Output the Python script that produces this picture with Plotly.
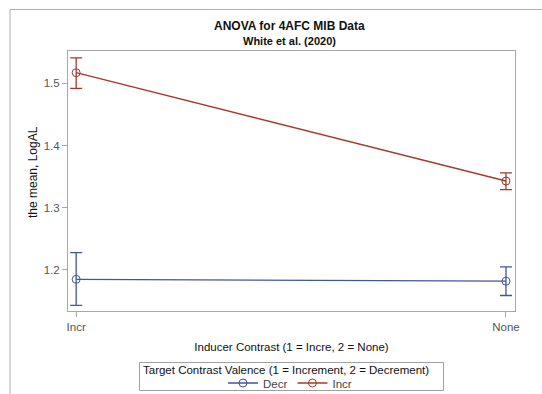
import plotly.graph_objects as go

categories = ["Incr", "None"]
series_names = ["Decr", "Incr"]
decr_mean = [1.185, 1.182]
decr_upper = [1.228, 1.205]
decr_lower = [1.143, 1.159]
incr_mean = [1.517, 1.343]
incr_upper = [1.541, 1.356]
incr_lower = [1.492, 1.329]
y_ticks = [1.2, 1.3, 1.4, 1.5]

colors = {"Decr": "#445694", "Incr": "#A23A2E"}
FONT = "Liberation Sans, Arial, sans-serif"

W, H = 542, 394
L, R, T, B = 68, 515, 51, 311

def px_x(p):
    return (p - L) / (R - L)

def px_y(p):
    return (B - p) / (B - T)

fig = go.Figure()
for name, m, up, lo in [("Decr", decr_mean, decr_upper, decr_lower),
                        ("Incr", incr_mean, incr_upper, incr_lower)]:
    fig.add_trace(go.Scatter(
        x=[0, 1], y=m, name=name, mode="lines+markers",
        line=dict(color=colors[name], width=1.3),
        marker=dict(symbol="circle-open", size=8, color=colors[name], line=dict(width=1)),
        error_y=dict(type="data", symmetric=False,
                     array=[u - v for u, v in zip(up, m)],
                     arrayminus=[v - l for v, l in zip(m, lo)],
                     color=colors[name], thickness=1.3, width=6),
    ))

fig.update_layout(
    width=W, height=H,
    margin=dict(l=L, r=W - R, t=T, b=H - B, autoexpand=False),
    paper_bgcolor="white", plot_bgcolor="white",
    font=dict(family=FONT, color="#333"),
    showlegend=True,
    legend=dict(
        orientation="h", x=px_x(290), xanchor="center", y=px_y(383), yanchor="middle",
        font=dict(size=11.5, color="#444"),
        bgcolor="rgba(0,0,0,0)", borderwidth=0,
        tracegroupgap=0,
    ),
    xaxis=dict(
        range=[-0.019, 1.021], tickvals=[0, 1], ticktext=categories,
        showgrid=False, zeroline=False, showline=True, mirror=True,
        linecolor="#a8a8a8", linewidth=1, ticks="outside", ticklen=5,
        tickcolor="#a8a8a8", tickfont=dict(size=11.5, color="#555"),
        title=dict(text="Inducer Contrast (1 = Incre, 2 = None)",
                   font=dict(size=11.5, color="#111"), standoff=11),
    ),
    yaxis=dict(
        range=[1.1341, 1.5519], tickvals=y_ticks, ticktext=[str(t) for t in y_ticks],
        showgrid=False, zeroline=False, showline=True, mirror=True,
        linecolor="#a8a8a8", linewidth=1, ticks="outside", ticklen=5,
        tickcolor="#a8a8a8", tickfont=dict(size=11.5, color="#555"),
    ),
    annotations=[
        dict(text="<b>ANOVA for 4AFC MIB Data</b>", x=px_x(289), y=px_y(26),
             xref="paper", yref="paper", showarrow=False, xanchor="center", yanchor="middle",
             font=dict(size=12, color="#111")),
        dict(text="<b>White et al. (2020)</b>", x=px_x(289), y=px_y(41),
             xref="paper", yref="paper", showarrow=False, xanchor="center", yanchor="middle",
             font=dict(size=11, color="#111")),
        dict(text="the mean, LogAL", textangle=-90, x=px_x(33), y=px_y(172),
             xref="paper", yref="paper", showarrow=False, xanchor="center", yanchor="middle",
             font=dict(size=12, color="#111")),
        dict(text="Target Contrast Valence (1 = Increment, 2 = Decrement)",
             x=px_x(286), y=px_y(370), xref="paper", yref="paper", showarrow=False,
             xanchor="center", yanchor="middle", font=dict(size=11.5, color="#111")),
    ],
    shapes=[
        dict(type="line", xref="paper", yref="paper", x0=px_x(10), x1=px_x(560),
             y0=px_y(9.5), y1=px_y(9.5), line=dict(color="#b0b0b0", width=1)),
        dict(type="line", xref="paper", yref="paper", x0=px_x(10), x1=px_x(10),
             y0=px_y(9.5), y1=px_y(394), line=dict(color="#b0b0b0", width=1)),
        dict(type="rect", xref="paper", yref="paper", x0=px_x(139.5), x1=px_x(443.5),
             y0=px_y(362.5), y1=px_y(390.5), line=dict(color="#a0a0a0", width=1)),
    ],
)

fig.write_html("out.html")
